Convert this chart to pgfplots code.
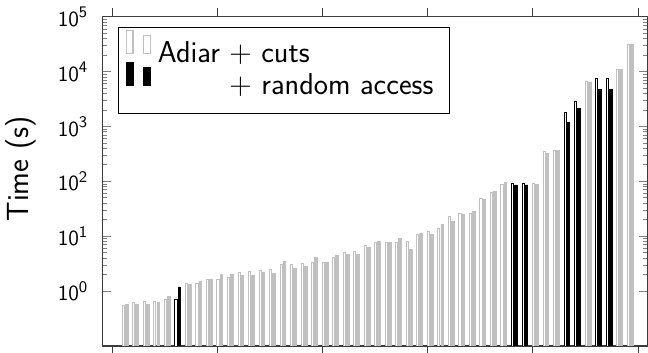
\documentclass[border=0pt]{standalone}
\usepackage{pgfplots}
\pgfplotsset{compat=1.18}
\renewcommand{\familydefault}{\sfdefault}
\definecolor{barg}{RGB}{192,192,192}
\definecolor{axl}{RGB}{60,60,60}

\pgfplotstableread{
x y
1 0.548
2 0.627
3 0.643
4 0.643
5 0.714
7 1.37
8 1.37
9 1.65
10 1.63
11 1.74
12 2.19
13 2.27
14 2.43
15 2.50
16 3.09
17 3.09
18 3.22
19 3.33
20 3.40
21 4.03
22 5.12
23 5.25
24 6.75
25 7.72
26 7.66
27 7.82
28 7.98
29 10.6
30 12.2
31 14.0
32 22.8
33 25.9
34 26.3
35 49.4
36 63.6
37 89.3
40 92.7
41 350
42 368
45 6724
48 10800
49 30900
}\adiar

\pgfplotstableread{
x y
1 0.578
2 0.578
3 0.576
4 0.621
5 0.80
7 1.33
8 1.49
9 1.65
10 2.01
11 2.04
12 1.95
13 1.97
14 2.21
15 2.06
16 3.45
17 2.61
18 2.84
19 4.11
20 3.33
21 4.51
22 4.57
23 4.57
24 6.21
25 8.12
26 7.56
27 9.06
28 5.80
29 11.5
30 11.0
31 16.3
32 18.5
33 25.3
34 28.1
35 46.0
36 65.2
37 95.9
40 88.9
41 318
42 368
45 6475
48 11000
49 30900
}\cuts

\pgfplotstableread{
x y
6 0.714
38 92.7
39 92.7
43 1799
44 2856
46 7623
47 7623
}\adiarra

\pgfplotstableread{
x y
6 1.19
38 86.3
39 86.3
43 1183
44 2128
46 4667
47 4667
}\cutsra

\begin{document}
\begin{tikzpicture}
\begin{axis}[
  scale only axis, width=303.3pt, height=182.8pt,
  ymode=log, log origin y=infty,
  xmin=-0.95, xmax=50.95, ymin=0.1, ymax=1e5,
  xtick={0,10,20,30,40,50}, xticklabels={},
  xtick pos=both, xtick align=outside,
  ytick={1,10,100,1000,10000,100000},
  yticklabels={$\mathsf{10}^{\mathsf{0}}$,$\mathsf{10}^{\mathsf{1}}$,$\mathsf{10}^{\mathsf{2}}$,$\mathsf{10}^{\mathsf{3}}$,$\mathsf{10}^{\mathsf{4}}$,$\mathsf{10}^{\mathsf{5}}$},
  ytick pos=both, yticklabel pos=left, ytick align=inside,
  major tick length=5pt, minor tick length=2.8pt,
  every tick/.style={gray, line width=0.5pt},
  every x tick/.style={axl, line width=0.5pt},
  axis line style={axl, line width=0.6pt},
  tick label style={font=\fontsize{12.5}{14}\selectfont},
  yticklabel style={xshift=-4.2pt},
  ylabel={Time (s)},
  ylabel style={font=\fontsize{17}{20}\selectfont, at={(axis description cs:-0.148,0.538)}, anchor=center},
  legend style={name=leg, at={(0.0299,0.9687)}, anchor=north west, draw=none, fill=white,
    font=\fontsize{16.8}{19}\selectfont, row sep=-4.2pt, inner xsep=4pt, inner ysep=1.2pt},
  legend cell align=left,
  legend image code/.code={%
    \draw[#1, line width=0.6pt] (0.3pt,0pt) rectangle (3.9pt,13pt) (9.7pt,0pt) rectangle (13.6pt,10pt);
    \path[draw=none, fill=none] (0pt,0pt) rectangle (15.8pt,0pt);},
]
\addplot[ybar, bar width=0.2, bar shift=0.07, fill=white, draw=barg, line width=0.5pt] table[x=x,y=y]{\adiar};
\addlegendentry{Adiar $+$ cuts}
\addplot[ybar, bar width=0.26, bar shift=0.40, fill=barg, draw=barg, line width=0.5pt, forget plot] table[x=x,y=y]{\cuts};
\addplot[ybar, bar width=0.2, bar shift=0.07, fill=white, draw=black, line width=0.5pt, forget plot] table[x=x,y=y]{\adiarra};
\addplot[ybar, bar width=0.26, bar shift=0.40, fill=black, draw=black, line width=0.5pt] table[x=x,y=y]{\cutsra};
\addlegendentry{\phantom{Adiar} $+$ random access\hspace*{2.5pt}}
\coordinate (bl) at (rel axis cs:0,0);
\coordinate (tr) at (rel axis cs:1,1);
\end{axis}
\draw[black, line width=0.6pt] (leg.north west) rectangle ([yshift=-5.5pt]leg.south east);
\pgfresetboundingbox
\path[use as bounding box] ([xshift=-56.7pt,yshift=-3.9pt]bl) rectangle ([yshift=9.4pt]tr);
\end{tikzpicture}
\end{document}
